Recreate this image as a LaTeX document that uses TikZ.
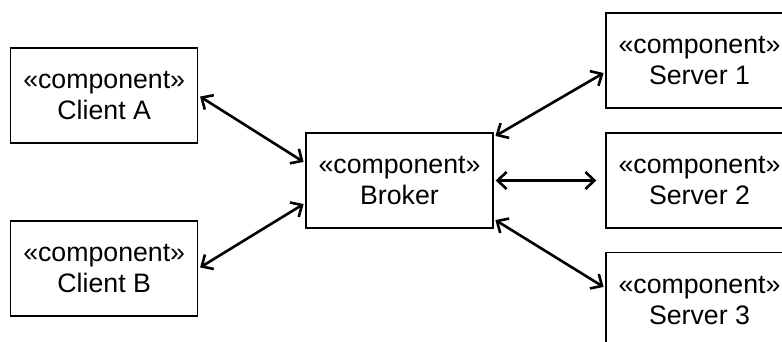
\documentclass[tikz,border=0pt]{standalone}
\usepackage{fontspec}
\setmainfont{Liberation Sans}
\usetikzlibrary{arrows.meta}

\tikzset{
  component/.style={draw, line width=1.4pt, minimum width=187pt, minimum height=95pt,
    align=center, inner sep=0pt, font=\fontsize{26.7}{31}\selectfont},
  link/.style={{Straight Barb[length=9pt,width=17pt]}-{Straight Barb[length=9pt,width=17pt]},
    line width=2.6pt, shorten <=2pt, shorten >=2pt}
}

\begin{document}
\begin{tikzpicture}[x=1pt,y=1pt]
    \clip (0,0) rectangle (782,342);

    % Clients
    \node[component] (clientA) at (104.2,246.5) {«component»\\Client A};
    \node[component] (clientB) at (104.2,73.5) {«component»\\Client B};

    % Broker
    \node[component] (broker) at (399.5,161.5) {«component»\\Broker};

    % Servers (cut off at the right edge)
    \node[component] (server1) at (699.5,281.5) {«component»\\Server 1};
    \node[component] (server2) at (699.5,161.5) {«component»\\Server 2};
    \node[component] (server3) at (699.5,41.8) {«component»\\Server 3};

    % Connections
    \draw[link] (clientA.east) -- ([yshift=17.5pt]broker.west);
    \draw[link] (clientB.east) -- ([yshift=-22.5pt]broker.west);
    \draw[link] ([yshift=43.5pt]broker.east) -- ([yshift=-11.5pt]server1.west);
    \draw[link, shorten >=9pt] (broker.east) -- (server2.west);
    \draw[link] ([yshift=-38.5pt]broker.east) -- ([yshift=12.2pt]server3.west);
\end{tikzpicture}
\end{document}
